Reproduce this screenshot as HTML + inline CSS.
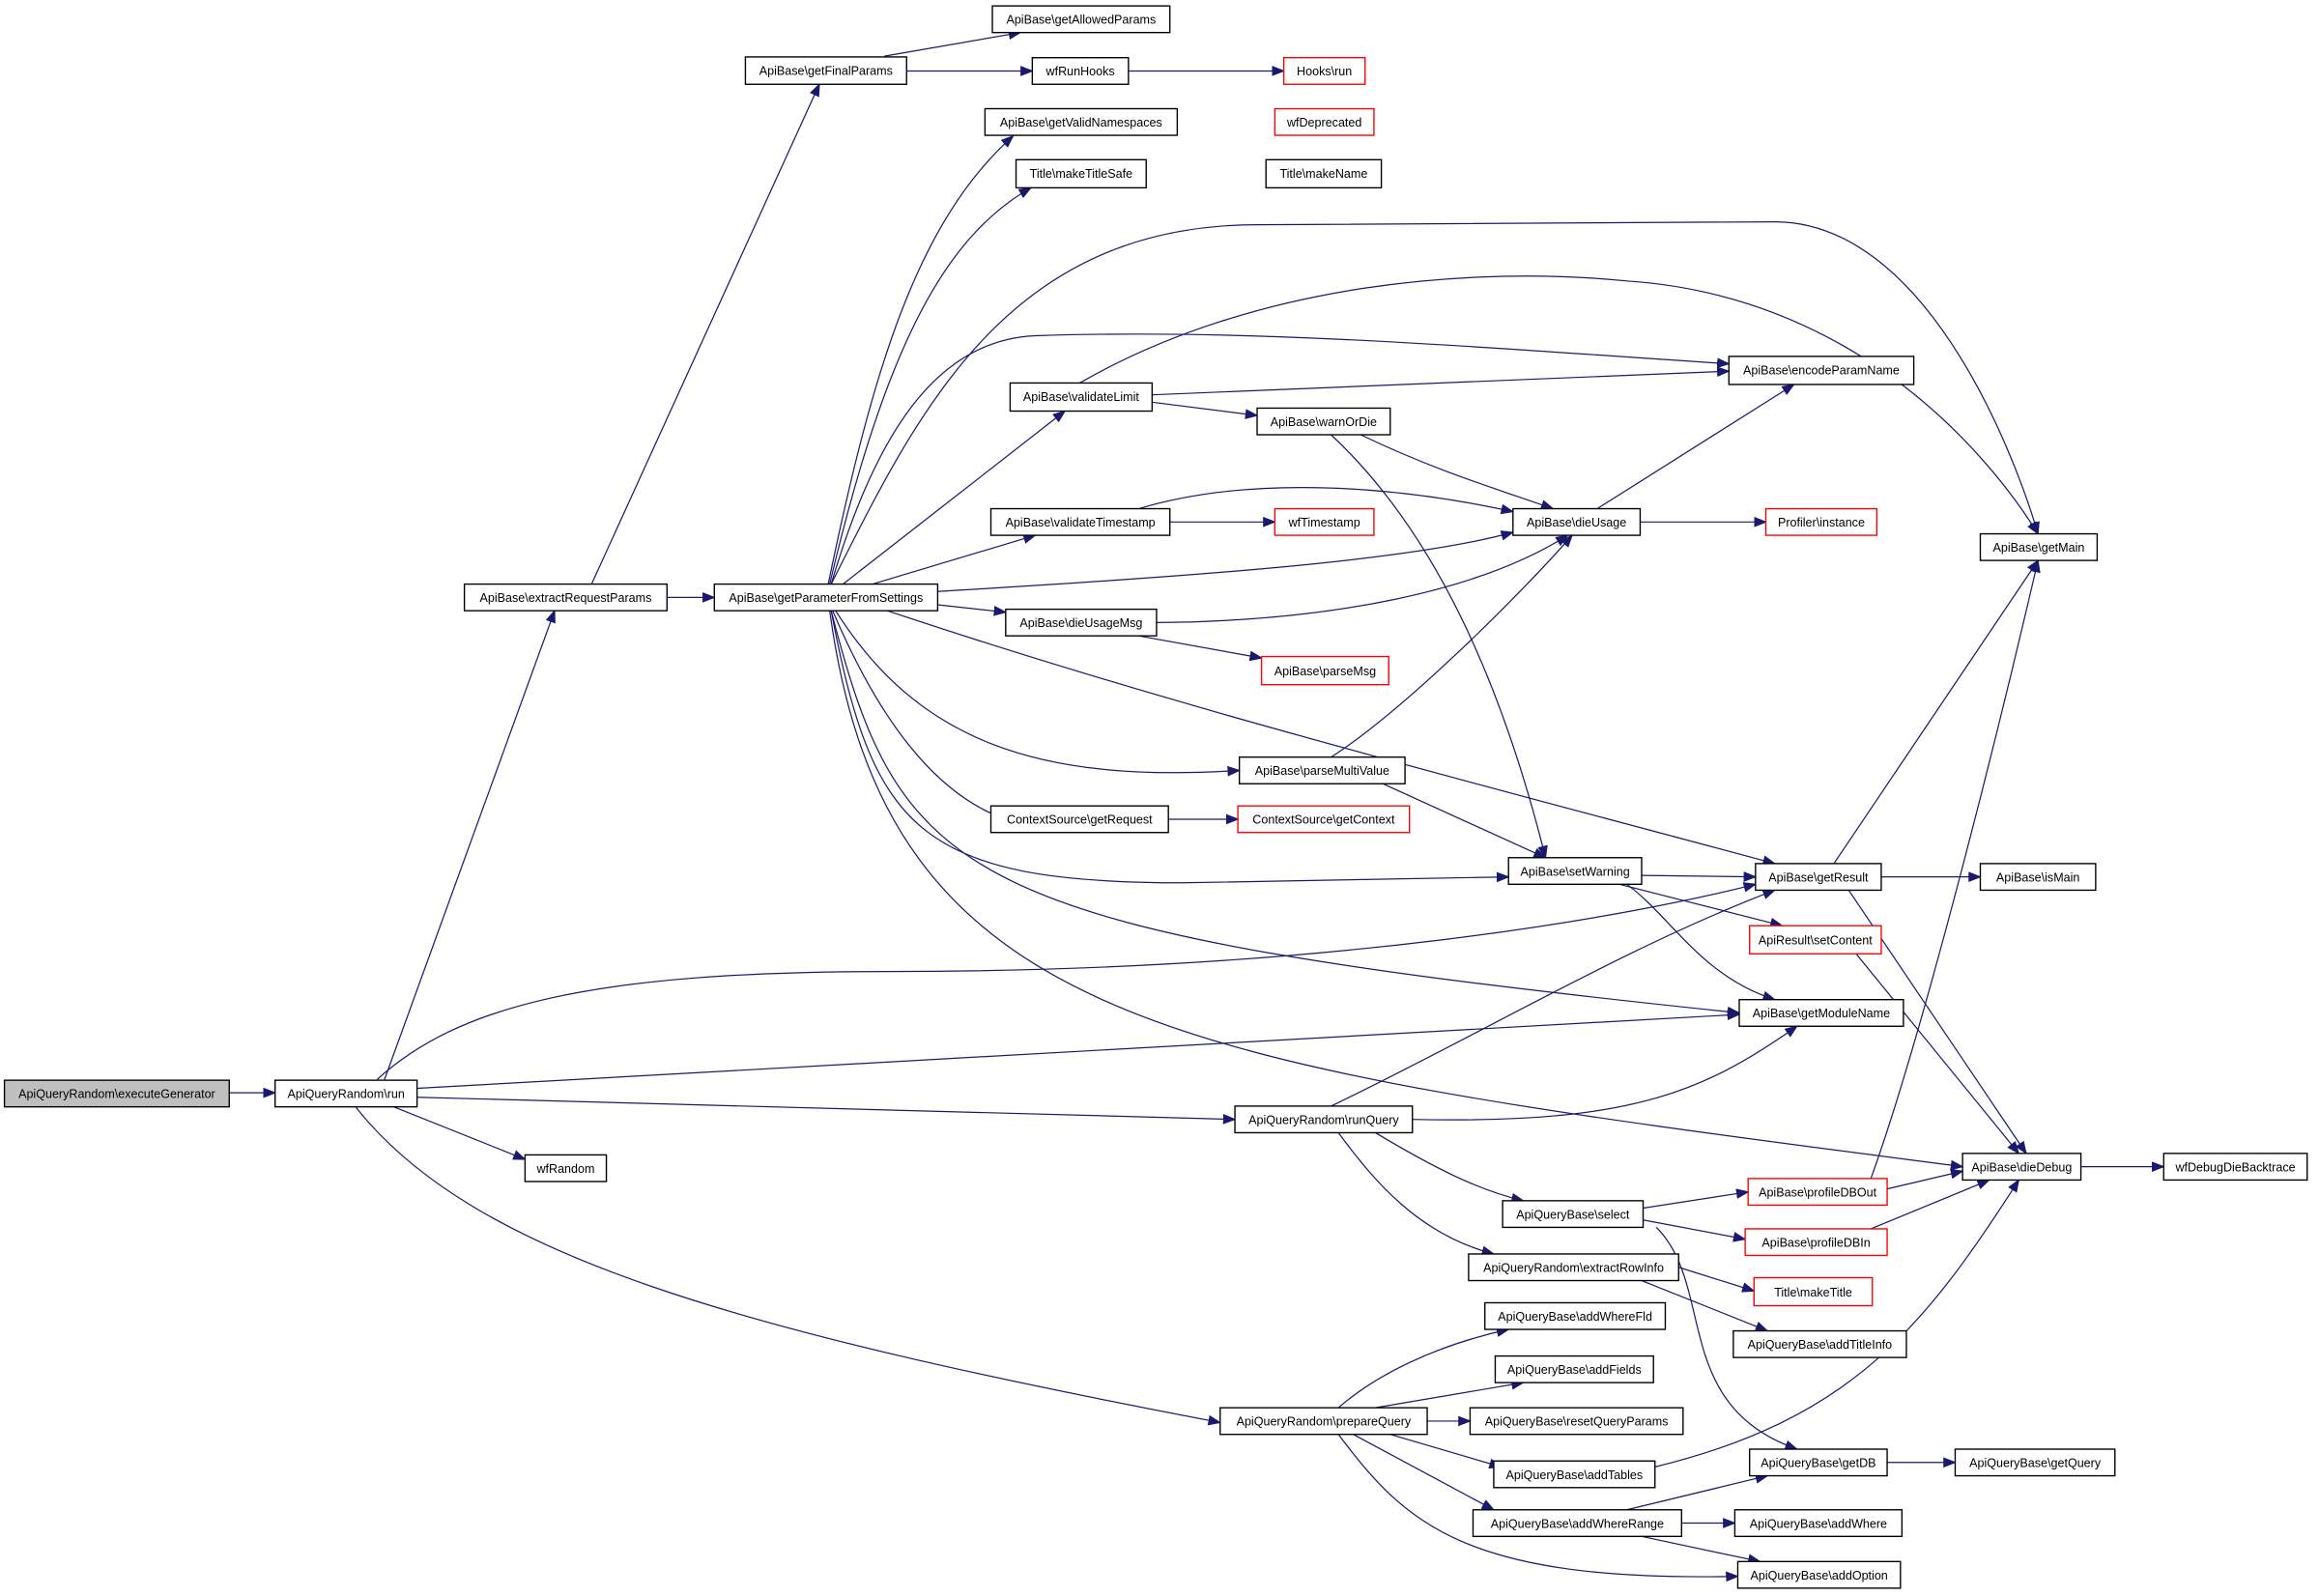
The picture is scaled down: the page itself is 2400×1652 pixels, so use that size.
<!DOCTYPE html>
<html><head><meta charset="utf-8"><style>html,body{margin:0;padding:0;background:#fff}svg{display:block}text{font-family:"Liberation Sans",sans-serif;font-size:8.2px;fill:#000}</style></head><body>
<svg width="2400" height="1652" viewBox="0 0 1568 1079.3" preserveAspectRatio="none" xmlns="http://www.w3.org/2000/svg">
<defs><marker id="a" markerUnits="userSpaceOnUse" markerWidth="9" markerHeight="8" refX="8" refY="3.5" orient="auto"><path d="M0,0 L9,3.5 L0,7 z" fill="#191970"/></marker></defs>
<g fill="none" stroke="#191970" stroke-width="0.8" marker-end="url(#a)">
<path d="M155,739 L186,739"/>
<path d="M260,730 L375,413"/>
<path d="M400,395 L554,57"/>
<path d="M451,404 L483,404"/>
<path d="M598,38 L690,22"/>
<path d="M613,48 L698,48"/>
<path d="M763,48 L868,48"/>
<path d="M560,395 C590,250 620,150 685,92"/>
<path d="M561,395 C600,230 640,160 697,127"/>
<path d="M562,395 C620,280 680,152 850,152 L1200,150 C1300,150 1360,300 1378,361"/>
<path d="M562,395 C590,300 630,230 700,227 C850,222 1000,235 1169,246"/>
<path d="M730,259 C850,190 1000,180 1100,190 C1250,200 1340,300 1378,361"/>
<path d="M779,267 L1169,251"/>
<path d="M779,272 L850,281"/>
<path d="M570,395 L720,278"/>
<path d="M920,294 C970,318 1010,330 1050,344"/>
<path d="M900,294 C960,350 1010,440 1045,580"/>
<path d="M1080,344 L1213,260"/>
<path d="M1109,353 L1194,353"/>
<path d="M770,344 C850,320 950,330 1023,346"/>
<path d="M791,353 L862,353"/>
<path d="M590,395 L700,362"/>
<path d="M634,400 C800,390 950,380 1023,360"/>
<path d="M634,409 L680,414"/>
<path d="M782,421 C900,420 1000,400 1060,362"/>
<path d="M770,430 L853,445"/>
<path d="M900,512 C950,480 1030,400 1063,362"/>
<path d="M565,413 C620,500 700,530 838,521"/>
<path d="M935,530 L1045,580"/>
<path d="M600,413 C800,480 1000,530 1200,584"/>
<path d="M563,413 C600,500 640,540 680,554"/>
<path d="M790,554 L837,554"/>
<path d="M562,413 C590,560 620,597 800,597 L1020,593"/>
<path d="M562,413 C610,600 650,630 1176,685"/>
<path d="M561,413 C600,700 800,720 1327,789"/>
<path d="M1110,592 L1187,593"/>
<path d="M1095,598 L1205,626"/>
<path d="M1100,598 C1130,620 1150,660 1200,676"/>
<path d="M1240,584 L1378,379"/>
<path d="M1272,593 L1339,593"/>
<path d="M1250,602 L1370,780"/>
<path d="M1255,645 L1365,780"/>
<path d="M255,730 C310,680 400,657 600,657 C900,657 1100,620 1187,598"/>
<path d="M282,736 L1176,686"/>
<path d="M282,742 L835,757"/>
<path d="M265,748 L355,784"/>
<path d="M240,748 C320,850 500,900 825,962"/>
<path d="M900,748 C1000,700 1100,640 1200,602"/>
<path d="M955,757 C1100,760 1150,740 1215,694"/>
<path d="M930,766 C970,790 1000,805 1030,812"/>
<path d="M905,766 C930,800 960,835 1010,848"/>
<path d="M1265,797 C1300,700 1350,500 1378,379"/>
<path d="M1276,804 L1327,792"/>
<path d="M1265,831 L1345,798"/>
<path d="M1407,789 L1463,789"/>
<path d="M1111,817 L1182,806"/>
<path d="M1111,825 L1180,838"/>
<path d="M1120,830 C1160,870 1130,950 1215,980"/>
<path d="M1135,857 L1186,873"/>
<path d="M1110,866 L1195,900"/>
<path d="M905,952 C930,930 970,910 1020,899"/>
<path d="M930,952 L1030,935"/>
<path d="M965,961 L994,961"/>
<path d="M940,970 L1015,992"/>
<path d="M915,970 L1010,1021"/>
<path d="M905,970 C950,1030 990,1070 1175,1066"/>
<path d="M1119,992 C1250,960 1300,900 1365,798"/>
<path d="M1100,1021 L1195,998"/>
<path d="M1137,1030 L1173,1030"/>
<path d="M1110,1039 L1190,1056"/>
<path d="M1276,989 L1322,989"/>
</g>
<g stroke-width="0.9" text-anchor="middle">
<g stroke="#000" fill="#fff">
<rect x="3" y="730.5" width="152" height="18" fill="#bfbfbf"/>
<rect x="186" y="730.5" width="96" height="18"/>
<rect x="314" y="395" width="137" height="18"/>
<rect x="483" y="395" width="151" height="18"/>
<rect x="504" y="38.5" width="109" height="18.5"/>
<rect x="671" y="4" width="120" height="18"/>
<rect x="698" y="39" width="65" height="18"/>
<rect x="666" y="73.5" width="130" height="18"/>
<rect x="687" y="108" width="88" height="19"/>
<rect x="856" y="108" width="78" height="19"/>
<rect x="683" y="259" width="96" height="19"/>
<rect x="850" y="276" width="90" height="18"/>
<rect x="1169" y="241" width="125" height="19"/>
<rect x="670" y="344" width="121" height="18"/>
<rect x="1023" y="344" width="86" height="18"/>
<rect x="680" y="412" width="102" height="18"/>
<rect x="1339" y="361" width="79" height="18"/>
<rect x="838" y="512" width="112" height="18"/>
<rect x="670" y="545" width="120" height="18"/>
<rect x="1020" y="580" width="90" height="18"/>
<rect x="1187" y="584" width="85" height="18"/>
<rect x="1339" y="584" width="78" height="18"/>
<rect x="1176" y="676" width="111" height="18"/>
<rect x="835" y="748" width="120" height="18"/>
<rect x="355" y="781" width="55" height="18"/>
<rect x="1327" y="780" width="80" height="18"/>
<rect x="1463" y="780" width="97" height="18"/>
<rect x="1016" y="812" width="95" height="18"/>
<rect x="993" y="848" width="142" height="18"/>
<rect x="1004" y="881" width="122" height="18"/>
<rect x="1172" y="900" width="117" height="18"/>
<rect x="1011" y="917" width="107" height="18"/>
<rect x="825" y="952" width="140" height="18"/>
<rect x="994" y="952" width="144" height="18"/>
<rect x="1010" y="988" width="109" height="18"/>
<rect x="1183" y="980" width="93" height="18"/>
<rect x="1322" y="980" width="108" height="18"/>
<rect x="996" y="1021" width="141" height="18"/>
<rect x="1173" y="1021" width="113" height="18"/>
<rect x="1175" y="1056" width="110" height="18"/>
</g>
<g stroke="#ff0000" fill="#fff">
<rect x="868" y="39" width="55" height="18"/>
<rect x="862" y="73.5" width="67" height="18"/>
<rect x="862" y="344" width="67" height="18"/>
<rect x="1194" y="344" width="75" height="18"/>
<rect x="853" y="444" width="86" height="19"/>
<rect x="837" y="545" width="116" height="18"/>
<rect x="1183" y="626" width="89" height="19"/>
<rect x="1182" y="797" width="94" height="18"/>
<rect x="1180" y="831" width="96" height="18"/>
<rect x="1186" y="864" width="80" height="19"/>
</g>
<g dominant-baseline="central">
<text x="79" y="740">ApiQueryRandom\executeGenerator</text>
<text x="234" y="740">ApiQueryRandom\run</text>
<text x="382.5" y="404.5">ApiBase\extractRequestParams</text>
<text x="558.5" y="404.5">ApiBase\getParameterFromSettings</text>
<text x="558.5" y="48">ApiBase\getFinalParams</text>
<text x="731" y="13.5">ApiBase\getAllowedParams</text>
<text x="730.5" y="48.5">wfRunHooks</text>
<text x="731" y="83">ApiBase\getValidNamespaces</text>
<text x="731" y="117.5">Title\makeTitleSafe</text>
<text x="895" y="117.5">Title\makeName</text>
<text x="731" y="268.5">ApiBase\validateLimit</text>
<text x="895" y="285.5">ApiBase\warnOrDie</text>
<text x="1231.5" y="250.5">ApiBase\encodeParamName</text>
<text x="730.5" y="353.5">ApiBase\validateTimestamp</text>
<text x="1066" y="353.5">ApiBase\dieUsage</text>
<text x="731" y="421.5">ApiBase\dieUsageMsg</text>
<text x="1378.5" y="370.5">ApiBase\getMain</text>
<text x="894" y="521.5">ApiBase\parseMultiValue</text>
<text x="730" y="554.5">ContextSource\getRequest</text>
<text x="1065" y="589.5">ApiBase\setWarning</text>
<text x="1229.5" y="593.5">ApiBase\getResult</text>
<text x="1378" y="593.5">ApiBase\isMain</text>
<text x="1231.5" y="685.5">ApiBase\getModuleName</text>
<text x="895" y="757.5">ApiQueryRandom\runQuery</text>
<text x="382.5" y="790.5">wfRandom</text>
<text x="1367" y="789.5">ApiBase\dieDebug</text>
<text x="1511.5" y="789.5">wfDebugDieBacktrace</text>
<text x="1063.5" y="821.5">ApiQueryBase\select</text>
<text x="1064" y="857.5">ApiQueryRandom\extractRowInfo</text>
<text x="1065" y="890.5">ApiQueryBase\addWhereFld</text>
<text x="1230.5" y="909.5">ApiQueryBase\addTitleInfo</text>
<text x="1064.5" y="926.5">ApiQueryBase\addFields</text>
<text x="895" y="961.5">ApiQueryRandom\prepareQuery</text>
<text x="1066" y="961.5">ApiQueryBase\resetQueryParams</text>
<text x="1064.5" y="997.5">ApiQueryBase\addTables</text>
<text x="1229.5" y="989.5">ApiQueryBase\getDB</text>
<text x="1376" y="989.5">ApiQueryBase\getQuery</text>
<text x="1066.5" y="1030.5">ApiQueryBase\addWhereRange</text>
<text x="1229.5" y="1030.5">ApiQueryBase\addWhere</text>
<text x="1230" y="1065.5">ApiQueryBase\addOption</text>
<text x="895.5" y="48.5">Hooks\run</text>
<text x="895.5" y="83">wfDeprecated</text>
<text x="895.5" y="353.5">wfTimestamp</text>
<text x="1231.5" y="353.5">Profiler\instance</text>
<text x="896" y="454">ApiBase\parseMsg</text>
<text x="895" y="554.5">ContextSource\getContext</text>
<text x="1227.5" y="636">ApiResult\setContent</text>
<text x="1229" y="806.5">ApiBase\profileDBOut</text>
<text x="1228" y="840.5">ApiBase\profileDBIn</text>
<text x="1226" y="874">Title\makeTitle</text>
</g>
</g>
</svg>
</body></html>
